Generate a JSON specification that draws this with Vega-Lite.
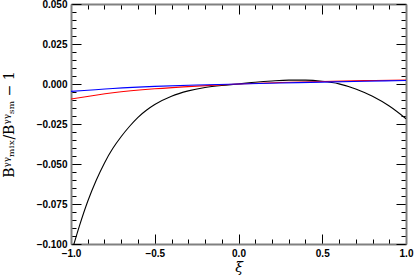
{
  "$schema": "https://vega.github.io/schema/vega-lite/v6.json",
  "width": 335,
  "height": 240,
  "autosize": {"type": "none"},
  "padding": {"left": 71, "top": 4, "right": 8, "bottom": 34},
  "background": "white",
  "config": {"view": {"stroke": null}},
  "data": {"values": [
    {"xi": -1.0, "val": -0.1063, "series": "model 1"},
    {"xi": -0.95, "val": -0.0888, "series": "model 1"},
    {"xi": -0.9, "val": -0.0733, "series": "model 1"},
    {"xi": -0.85, "val": -0.0603, "series": "model 1"},
    {"xi": -0.8, "val": -0.0493, "series": "model 1"},
    {"xi": -0.75, "val": -0.0402, "series": "model 1"},
    {"xi": -0.7, "val": -0.0328, "series": "model 1"},
    {"xi": -0.65, "val": -0.0264, "series": "model 1"},
    {"xi": -0.6, "val": -0.0208, "series": "model 1"},
    {"xi": -0.55, "val": -0.0164, "series": "model 1"},
    {"xi": -0.5, "val": -0.0128, "series": "model 1"},
    {"xi": -0.4, "val": -0.0076, "series": "model 1"},
    {"xi": -0.3, "val": -0.0043, "series": "model 1"},
    {"xi": -0.2, "val": -0.0022, "series": "model 1"},
    {"xi": -0.1, "val": -0.0009, "series": "model 1"},
    {"xi": 0.0, "val": 0.0, "series": "model 1"},
    {"xi": 0.1, "val": 0.0011, "series": "model 1"},
    {"xi": 0.2, "val": 0.0019, "series": "model 1"},
    {"xi": 0.3, "val": 0.0024, "series": "model 1"},
    {"xi": 0.4, "val": 0.0024, "series": "model 1"},
    {"xi": 0.5, "val": 0.0017, "series": "model 1"},
    {"xi": 0.6, "val": 0.0001, "series": "model 1"},
    {"xi": 0.7, "val": -0.0031, "series": "model 1"},
    {"xi": 0.8, "val": -0.0077, "series": "model 1"},
    {"xi": 0.9, "val": -0.0138, "series": "model 1"},
    {"xi": 1.0, "val": -0.0217, "series": "model 1"},
    {"xi": -1.0, "val": -0.0094, "series": "model 2"},
    {"xi": -0.75, "val": -0.0055, "series": "model 2"},
    {"xi": -0.5, "val": -0.0030, "series": "model 2"},
    {"xi": -0.25, "val": -0.0013, "series": "model 2"},
    {"xi": 0.0, "val": 0.0, "series": "model 2"},
    {"xi": 0.25, "val": 0.0009, "series": "model 2"},
    {"xi": 0.5, "val": 0.0016, "series": "model 2"},
    {"xi": 0.75, "val": 0.0021, "series": "model 2"},
    {"xi": 1.0, "val": 0.0025, "series": "model 2"},
    {"xi": -1.0, "val": -0.0046, "series": "model 3"},
    {"xi": -0.75, "val": -0.0028, "series": "model 3"},
    {"xi": -0.5, "val": -0.0015, "series": "model 3"},
    {"xi": -0.25, "val": -0.0006, "series": "model 3"},
    {"xi": 0.0, "val": 0.0, "series": "model 3"},
    {"xi": 0.25, "val": 0.0006, "series": "model 3"},
    {"xi": 0.5, "val": 0.0012, "series": "model 3"},
    {"xi": 0.75, "val": 0.0017, "series": "model 3"},
    {"xi": 1.0, "val": 0.0022, "series": "model 3"}
  ]},
  "resolve": {"axis": {"x": "independent", "y": "independent"}},
  "layer": [
    {
      "mark": {"type": "line", "clip": true, "interpolate": "monotone", "strokeWidth": 1.1},
      "encoding": {
        "x": {"field": "xi", "type": "quantitative",
          "scale": {"domain": [-1, 1], "nice": false, "zero": false},
          "axis": {
            "orient": "bottom",
            "title": "ξ",
            "titleFont": "DejaVu Serif", "titleFontStyle": "italic", "titleFontWeight": "normal", "titleFontSize": 14, "titlePadding": -3,
            "values": [-1, -0.9, -0.8, -0.7, -0.6, -0.5, -0.4, -0.3, -0.2, -0.1, 0, 0.1, 0.2, 0.3, 0.4, 0.5, 0.6, 0.7, 0.8, 0.9, 1],
            "format": ".1f",
            "labelExpr": "abs(datum.value*2 - round(datum.value*2)) < 1e-6 ? datum.label : ''",
            "labelFont": "Liberation Sans", "labelFontWeight": "bold", "labelFontSize": 10, "labelColor": "black",
            "labelPadding": 14, "labelFlush": false, "labelOverlap": false,
            "tickSize": {"condition": {"test": "abs(datum.value*2 - round(datum.value*2)) < 1e-6", "value": -10}, "value": -5},
            "tickColor": "black", "tickWidth": 1,
            "domainColor": "#808080", "domainWidth": 2, "grid": false
          }},
        "y": {"field": "val", "type": "quantitative",
          "scale": {"domain": [-0.1, 0.05], "nice": false, "zero": false},
          "axis": {
            "orient": "left",
            "title": "Bᵞᵞₘᵢₓ/Bᵞᵞₛₘ − 1",
            "titleFont": "DejaVu Serif", "titleFontWeight": "normal", "titleFontSize": 14, "titlePadding": 20,
            "values": [-0.1, -0.095, -0.09, -0.085, -0.08, -0.075, -0.07, -0.065, -0.06, -0.055, -0.05, -0.045, -0.04, -0.035, -0.03, -0.025, -0.02, -0.015, -0.01, -0.005, 0, 0.005, 0.01, 0.015, 0.02, 0.025, 0.03, 0.035, 0.04, 0.045, 0.05],
            "format": ".3f",
            "labelExpr": "abs(datum.value*40 - round(datum.value*40)) < 1e-6 ? datum.label : ''",
            "labelFont": "Liberation Sans", "labelFontWeight": "bold", "labelFontSize": 10, "labelColor": "black",
            "labelPadding": 14, "labelFlush": false, "labelOverlap": false,
            "tickSize": {"condition": {"test": "abs(datum.value*40 - round(datum.value*40)) < 1e-6", "value": -10}, "value": -5},
            "tickColor": "black", "tickWidth": 1,
            "domainColor": "#808080", "domainWidth": 2, "grid": false
          }},
        "color": {"field": "series", "type": "nominal",
          "scale": {"domain": ["model 1", "model 2", "model 3"], "range": ["#000000", "#ff0000", "#0000ff"]},
          "legend": null}
      }
    },
    {
      "mark": {"type": "line", "opacity": 0},
      "encoding": {
        "x": {"field": "xi", "type": "quantitative",
          "axis": {
            "orient": "top", "title": null, "labels": false,
            "values": [-1, -0.9, -0.8, -0.7, -0.6, -0.5, -0.4, -0.3, -0.2, -0.1, 0, 0.1, 0.2, 0.3, 0.4, 0.5, 0.6, 0.7, 0.8, 0.9, 1],
            "tickSize": {"condition": {"test": "abs(datum.value*2 - round(datum.value*2)) < 1e-6", "value": -10}, "value": -5},
            "tickColor": "black", "tickWidth": 1,
            "domainColor": "#808080", "domainWidth": 2, "grid": false
          }},
        "y": {"field": "val", "type": "quantitative",
          "axis": {
            "orient": "right", "title": null, "labels": false,
            "values": [-0.1, -0.095, -0.09, -0.085, -0.08, -0.075, -0.07, -0.065, -0.06, -0.055, -0.05, -0.045, -0.04, -0.035, -0.03, -0.025, -0.02, -0.015, -0.01, -0.005, 0, 0.005, 0.01, 0.015, 0.02, 0.025, 0.03, 0.035, 0.04, 0.045, 0.05],
            "tickSize": {"condition": {"test": "abs(datum.value*40 - round(datum.value*40)) < 1e-6", "value": -10}, "value": -5},
            "tickColor": "black", "tickWidth": 1,
            "domainColor": "#808080", "domainWidth": 2, "grid": false
          }},
        "detail": {"field": "series"}
      }
    }
  ]
}
